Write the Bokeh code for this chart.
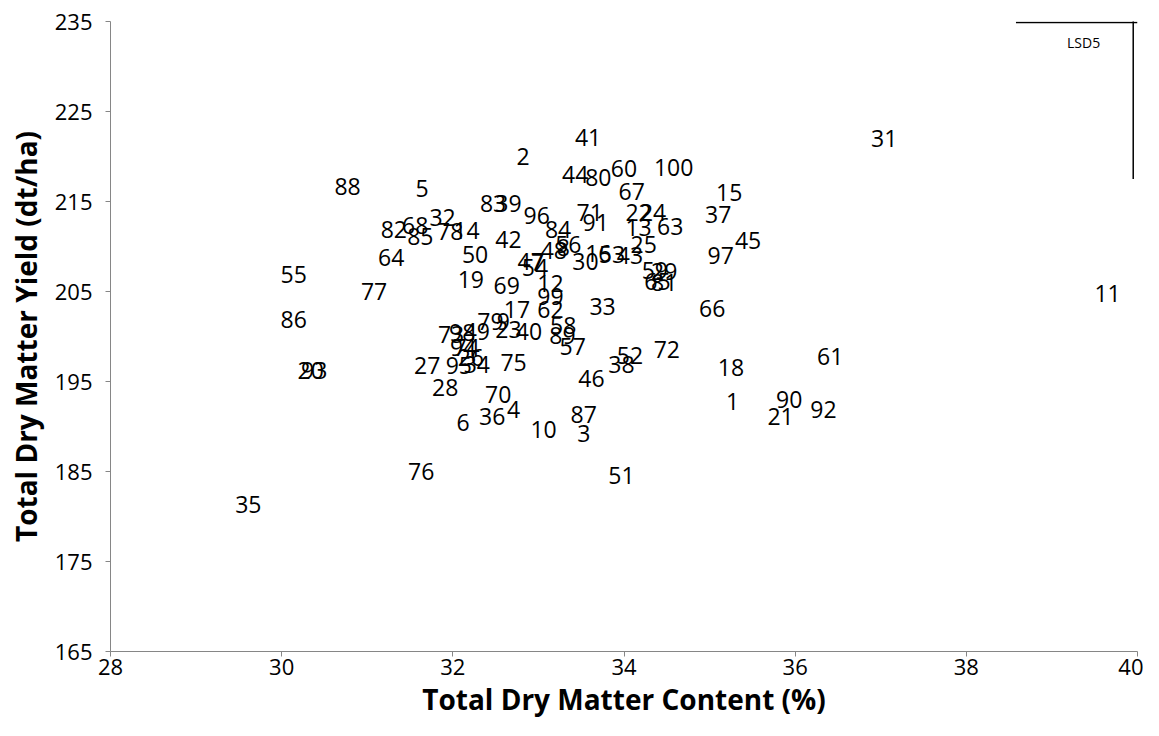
from bokeh.plotting import figure
from bokeh.models import Range1d, FixedTicker, ColumnDataSource
from bokeh.core.properties import value
from bokeh.embed import file_html
from bokeh.resources import INLINE

labels = [str(i) for i in range(1, 101)]
dm_content = [35.27, 32.82, 33.53, 32.71, 31.64, 32.12, 32.99, 33.29, 32.59, 33.06,
              39.65, 33.14, 34.17, 32.16, 35.23, 33.70, 32.75, 35.25, 32.21, 30.34,
              35.83, 34.17, 32.65, 34.34, 34.23, 32.21, 31.70, 31.91, 34.47, 33.55,
              37.04, 31.88, 33.75, 32.28, 29.61, 32.46, 35.10, 33.97, 32.65, 32.89,
              33.58, 32.65, 34.07, 33.43, 35.45, 33.62, 32.91, 33.18, 32.28, 32.26,
              33.97, 34.07, 33.86, 32.96, 30.14, 33.35, 33.40, 33.29, 34.36, 34.00,
              36.41, 33.14, 34.54, 31.28, 34.39, 35.03, 34.09, 31.56, 32.63, 32.53,
              33.60, 34.50, 31.98, 32.16, 32.71, 31.63, 31.08, 31.97, 32.44, 33.70,
              34.47, 31.31, 32.47, 33.23, 31.62, 30.14, 33.53, 30.77, 33.28, 35.93,
              33.67, 36.33, 30.38, 32.12, 32.07, 32.98, 35.13, 32.11, 33.14, 34.58]
dm_yield = [192.8, 220.0, 189.2, 191.9, 216.4, 190.4, 208.2, 209.9, 201.7, 189.7,
            204.8, 205.9, 212.1, 211.8, 216.0, 209.2, 203.0, 196.6, 206.3, 196.2,
            191.1, 213.8, 200.8, 213.8, 210.2, 197.7, 196.8, 194.3, 207.2, 208.3,
            222.0, 213.2, 203.3, 196.9, 181.3, 191.1, 213.6, 196.9, 214.8, 200.6,
            222.1, 210.8, 209.0, 218.0, 210.7, 195.3, 208.3, 209.6, 200.6, 209.1,
            184.6, 197.9, 209.1, 207.7, 206.9, 210.2, 198.9, 201.2, 207.3, 218.7,
            197.8, 203.0, 212.2, 208.8, 206.1, 203.1, 216.1, 212.3, 205.7, 193.6,
            213.8, 198.6, 200.2, 198.8, 197.1, 185.0, 205.0, 211.7, 201.7, 217.7,
            206.0, 211.9, 214.8, 211.9, 211.1, 201.9, 191.3, 216.7, 200.1, 193.0,
            212.7, 191.9, 196.2, 198.8, 196.8, 213.4, 209.0, 200.4, 204.4, 218.8]

x_ticks = [28, 30, 32, 34, 36, 38, 40]
y_ticks = [165, 175, 185, 195, 205, 215, 225, 235]

# LSD(5%) marker
lsd_label = "LSD5"
lsd_x0 = 39.95
lsd_y0 = 234.9
lsd_dx = 1.37
lsd_dy = 17.4

FONT = "Open Sans"

p = figure(width=1143, height=720, output_backend="svg", toolbar_location=None,
           x_range=Range1d(28, 40), y_range=Range1d(165, 235))
p.min_border_left = 110
p.min_border_right = 6
p.min_border_top = 21
p.min_border_bottom = 68
p.outline_line_color = None
p.grid.visible = False
p.background_fill_color = "white"
p.border_fill_color = "white"

for ax in (p.xaxis[0], p.yaxis[0]):
    ax.axis_line_color = "#868686"
    ax.major_tick_line_color = "#868686"
    ax.major_tick_out = 5
    ax.major_tick_in = 0
    ax.minor_tick_line_color = None
    ax.major_label_text_font = FONT
    ax.major_label_text_font_size = "22px"
    ax.major_label_text_color = "black"
    ax.axis_label_text_font = FONT
    ax.axis_label_text_font_size = "28px"
    ax.axis_label_text_font_style = "bold"
    ax.axis_label_text_color = "black"

p.xaxis.ticker = FixedTicker(ticks=x_ticks)
p.yaxis.ticker = FixedTicker(ticks=y_ticks)
p.xaxis.axis_label = "Total Dry Matter Content (%)"
p.yaxis.axis_label = "Total Dry Matter Yield (dt/ha)"
p.xaxis.major_label_standoff = 2
p.yaxis.major_label_standoff = 13
p.xaxis.axis_label_standoff = 2
p.yaxis.axis_label_standoff = 7

src = ColumnDataSource(dict(x=dm_content, y=dm_yield, t=labels))
p.text(x="x", y="y", text="t", source=src, text_align="center", text_baseline="middle",
       text_font=value(FONT), text_font_size="23px", text_color="black")

# LSD bars
p.segment(x0=[lsd_x0 - lsd_dx], y0=[lsd_y0], x1=[lsd_x0 + 0.05], y1=[lsd_y0],
          line_color="black", line_width=1.5)
p.segment(x0=[lsd_x0], y0=[lsd_y0 + 0.3], x1=[lsd_x0], y1=[lsd_y0 - lsd_dy],
          line_color="black", line_width=1.5)
p.text(x=[lsd_x0 - 0.58], y=[lsd_y0 - 2.2], text=[lsd_label], text_align="center",
       text_baseline="middle", text_font=value(FONT), text_font_size="14px",
       text_color="black")

open("out.html", "w").write(file_html(p, INLINE))
